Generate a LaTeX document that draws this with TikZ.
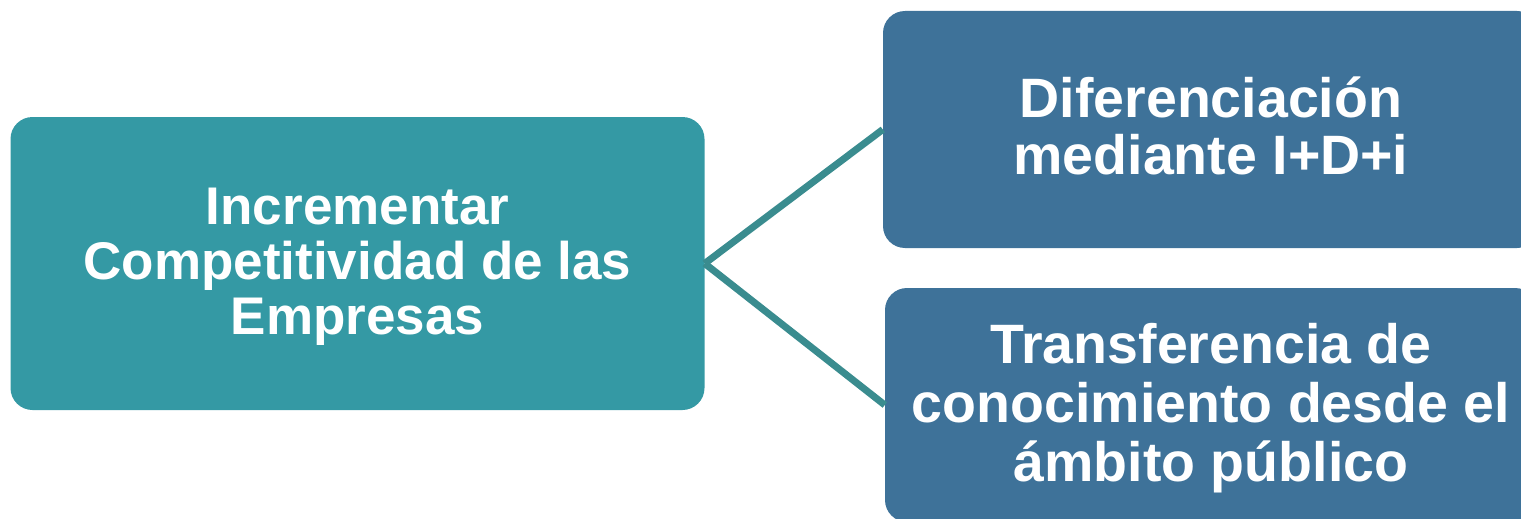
\documentclass[tikz,border=0pt]{standalone}
\usepackage{fontspec}
\setmainfont{Liberation Sans}
\definecolor{leftc}{HTML}{3499A4}
\definecolor{rightc}{HTML}{3E7299}
\definecolor{linec}{HTML}{3A8C8F}
\begin{document}
\begin{tikzpicture}[x=1pt,y=-1pt,
  box/.style={rounded corners=22pt, inner sep=0pt, text=white, align=center},
  conn/.style={draw=linec, line width=7pt}]
\useasboundingbox (0,0) rectangle (1521,519);
\node[box, fill=leftc, minimum width=694pt, minimum height=293pt, text depth=5pt,
  font=\fontsize{53}{55}\selectfont\bfseries] (L) at (357.5,263.5)
  {Incrementar\\Competitividad de las\\Empresas};
\node[box, fill=rightc, minimum width=656pt, minimum height=237pt, text depth=8pt,
  font=\fontsize{55.5}{57}\selectfont\bfseries] (T) at (1211,129.5)
  {Diferenciación\\mediante I+D+i};
\node[box, fill=rightc, minimum width=652pt, minimum height=234pt, text depth=5.7pt,
  font=\fontsize{55.5}{59}\selectfont\bfseries] (B) at (1211,405)
  {Transferencia de\\conocimiento desde el\\ámbito público};
\draw[conn] (L.east) -- (T.west);
\draw[conn] (L.east) -- (B.west);
\end{tikzpicture}
\end{document}
